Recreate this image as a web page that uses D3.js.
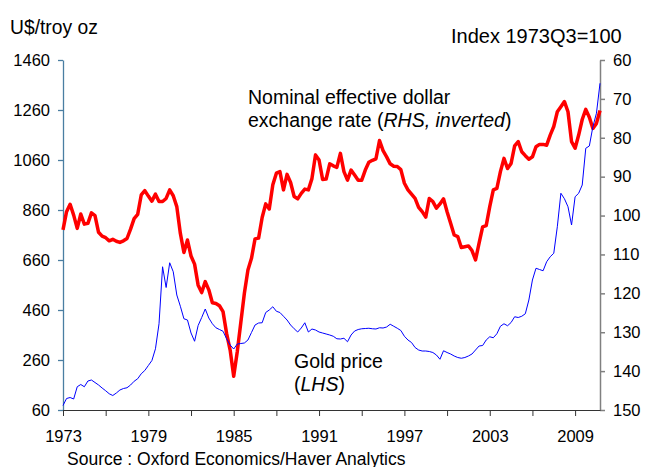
<!DOCTYPE html>
<html>
<head>
<meta charset="utf-8">
<script src="https://cdn.jsdelivr.net/npm/d3@7"></script>
<style>
  body { margin: 0; background: #fff; }
  text { font-family: Arial, "Liberation Sans", sans-serif; fill: #000; }
</style>
</head>
<body>
<div id="chart"></div>
<script>
// quarterly data, 1973Q1 .. 2010Q4
const startYear = 1973;

// gold price, US$/troy oz (left axis)
const goldPrice = [
  78, 106, 110, 104, 153, 162, 153, 176, 180, 170, 160, 148,
  137, 125, 118, 128, 140, 146, 149, 160, 175, 185, 205, 218,
  238, 258, 305, 405, 633, 550, 649, 613, 520, 475, 425, 420,
  368, 335, 398, 430, 464, 428, 405, 389, 382, 375, 345, 320,
  304, 324, 326, 328, 340, 370, 400, 408, 409, 450, 460, 473,
  455, 450, 435, 420, 400, 385, 372, 388, 409, 372, 384, 380,
  372, 368, 364, 360, 355, 345, 344, 347, 333, 360, 376, 382,
  385, 386, 387, 385, 384, 389, 388, 392, 403, 395, 387, 378,
  355, 340, 330, 310, 300, 296, 296, 294, 290, 280, 263, 297,
  290, 284, 276, 270, 267, 270, 276, 284, 300, 316, 318, 340,
  353, 349, 365, 395, 405, 397, 410, 433, 430, 435, 445, 500,
  580, 627, 622, 617, 653, 673, 687, 793, 927, 905, 873, 800,
  913, 927, 960, 1107, 1116, 1193, 1247, 1367
];

// nominal effective dollar exchange rate, index 1973Q3=100 (right axis, inverted)
const dollarIndex = [
  103.7, 99.0, 97.1, 99.9, 103.3, 99.6, 102.2, 102.0, 99.3, 100.0, 104.3, 105.3,
  105.7, 106.5, 106.1, 106.6, 106.9, 106.5, 105.9, 103.5, 100.8, 99.7, 94.7, 93.6,
  95.0, 96.3, 94.5, 96.4, 96.4, 95.6, 93.4, 94.9, 97.7, 104.6, 109.5, 106.3,
  110.4, 112.5, 117.9, 119.8, 117.0, 119.1, 122.4, 122.6, 123.2, 124.7, 130.3, 134.6,
  141.3, 135.0, 127.5, 120.0, 114.0, 111.0, 106.0, 105.8, 100.5, 97.0, 98.3, 92.1,
  89.1, 88.7, 93.4, 89.4, 91.5, 95.1, 95.7, 94.3, 93.2, 93.4, 90.5, 84.4,
  85.7, 90.7, 90.6, 86.7, 87.2, 87.6, 84.0, 88.7, 90.9, 88.3, 89.6, 90.9,
  90.9, 88.3, 86.3, 85.8, 85.4, 80.7, 83.3, 84.9, 86.7, 87.3, 87.4, 88.2,
  91.7, 93.4, 94.5, 95.6, 97.9, 99.0, 100.4, 95.6, 96.4, 98.1, 97.0, 95.7,
  99.0, 102.0, 105.0, 105.4, 108.2, 108.0, 107.8, 109.0, 111.4, 107.1, 102.9, 102.6,
  97.7, 93.4, 93.0, 88.7, 85.3, 87.9, 86.6, 82.1, 81.0, 83.6, 84.6, 85.5,
  84.9, 82.3, 81.7, 81.7, 81.9, 79.3, 77.1, 73.3, 72.0, 70.7, 73.3, 81.0,
  82.7, 79.3, 75.3, 72.7, 74.7, 77.6, 76.3, 73.0
];

const leftTicks = [60, 260, 460, 660, 860, 1060, 1260, 1460];
const rightTicks = [60, 70, 80, 90, 100, 110, 120, 130, 140, 150];
const yearTicks = [1973, 1976, 1979, 1982, 1985, 1988, 1991, 1994, 1997, 2000, 2003, 2006, 2009];
const yearLabels = [1973, 1979, 1985, 1991, 1997, 2003, 2009];

const W = 646, H = 467;
const margin = { top: 60, left: 63, right: 46, bottom: 57 };

const svg = d3.select('#chart')
  .append('svg')
  .attr('width', W)
  .attr('height', H);

const t = i => startYear + i / 4;

const x = d3.scaleLinear()
  .domain([startYear, t(goldPrice.length - 1)])
  .range([margin.left, W - margin.right]);

const yL = d3.scaleLinear()
  .domain([60, 1460])
  .range([H - margin.bottom, margin.top]);

// inverted
const yR = d3.scaleLinear()
  .domain([60, 150])
  .range([margin.top, H - margin.bottom]);

// axes
const gL = svg.append('g')
  .attr('transform', `translate(${margin.left},0)`)
  .call(d3.axisLeft(yL).tickValues(leftTicks).tickFormat(d3.format('d'))
    .tickSize(5).tickPadding(8).tickSizeOuter(0));
gL.selectAll('path, line').attr('stroke', '#4a7ea2').attr('stroke-width', 1.3);
gL.selectAll('text').style('font-size', '16.5px');

const gR = svg.append('g')
  .attr('transform', `translate(${W - margin.right},0)`)
  .call(d3.axisRight(yR).tickValues(rightTicks).tickSize(5).tickPadding(8).tickSizeOuter(0));
gR.selectAll('path, line').attr('stroke', '#808080').attr('stroke-width', 1.5);
gR.selectAll('text').style('font-size', '16.5px');

const gX = svg.append('g')
  .attr('transform', `translate(0,${H - margin.bottom})`)
  .call(d3.axisBottom(x)
    .tickValues(yearTicks)
    .tickFormat(d => yearLabels.includes(d) ? d : '')
    .tickSize(6).tickPadding(14).tickSizeOuter(0));
gX.selectAll('path, line').attr('stroke', '#333').attr('stroke-width', 1);
gX.selectAll('text').style('font-size', '16.5px');

// lines
const goldLine = d3.line()
  .x((d, i) => x(t(i)))
  .y(d => yL(d));

const dollarLine = d3.line()
  .x((d, i) => x(t(i)))
  .y(d => yR(d));

svg.append('path')
  .datum(dollarIndex)
  .attr('d', dollarLine)
  .attr('fill', 'none')
  .attr('stroke', '#ff0000')
  .attr('stroke-width', 3.5)
  .attr('stroke-linejoin', 'round');

svg.append('path')
  .datum(goldPrice)
  .attr('d', goldLine)
  .attr('fill', 'none')
  .attr('stroke', '#0000ff')
  .attr('stroke-width', 1);

// titles and labels
svg.append('text').attr('x', 10).attr('y', 34).style('font-size', '19.3px').text('U$/troy oz');
svg.append('text').attr('x', 451).attr('y', 43).style('font-size', '20px').text('Index 1973Q3=100');

svg.append('text').attr('x', 248).attr('y', 104).style('font-size', '19.5px').text('Nominal effective dollar');
const l2 = svg.append('text').attr('x', 248).attr('y', 127).style('font-size', '19.5px');
l2.append('tspan').text('exchange rate (');
l2.append('tspan').style('font-style', 'italic').text('RHS, inverted');
l2.append('tspan').text(')');

svg.append('text').attr('x', 294).attr('y', 368).style('font-size', '19.5px').text('Gold price');
const l4 = svg.append('text').attr('x', 294).attr('y', 391).style('font-size', '19.5px');
l4.append('tspan').text('(');
l4.append('tspan').style('font-style', 'italic').text('LHS');
l4.append('tspan').text(')');

svg.append('text').attr('x', 67).attr('y', 464.5).style('font-size', '17.5px')
  .text('Source : Oxford Economics/Haver Analytics');
</script>
</body>
</html>
